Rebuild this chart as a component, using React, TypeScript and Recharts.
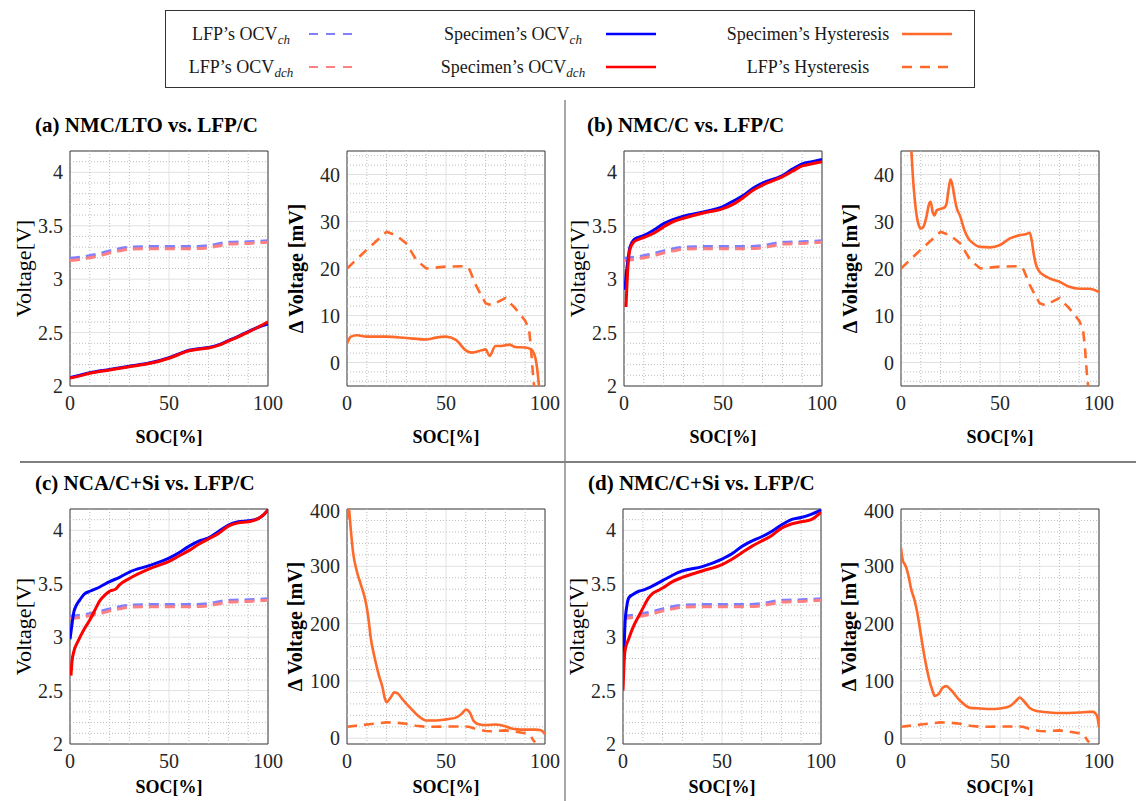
import React from "react";
import {
  LineChart, Line, XAxis, YAxis, CartesianGrid, ReferenceLine, ReferenceArea,
} from "recharts";

// ---- shared LFP reference curves ----
const lfpSoc = [0, 5, 10, 15, 20, 25, 30, 40, 50, 60, 68, 72, 76, 80, 90, 100];
const lfpOcvCh = [3.195, 3.205, 3.22, 3.24, 3.265, 3.285, 3.3, 3.305, 3.305, 3.305, 3.31, 3.32, 3.335, 3.345, 3.35, 3.36];
const lfpOcvDch = [3.175, 3.185, 3.2, 3.22, 3.245, 3.265, 3.28, 3.285, 3.285, 3.285, 3.29, 3.3, 3.315, 3.33, 3.335, 3.345];
const lfpHystSoc = [0, 10, 20, 25, 30, 35, 40, 50, 60, 62, 65, 70, 73, 80, 85, 90, 92, 93, 94, 95];
const lfpHyst = [20, 24, 27.8, 27, 25.3, 21.8, 20, 20.4, 20.5, 19.7, 16.5, 12.6, 12.2, 13.7, 11.5, 8.9, 6.9, 2.6, -3, -7];

// ---- (a) NMC/LTO ----
const aSoc = [0, 5, 10, 20, 30, 40, 50, 55, 60, 65, 70, 75, 80, 85, 90, 95, 100];
const aOcvCh = [2.08, 2.1, 2.125, 2.155, 2.185, 2.215, 2.265, 2.3, 2.335, 2.35, 2.36, 2.385, 2.425, 2.465, 2.51, 2.55, 2.58];
const aOcvDch = [2.075, 2.095, 2.12, 2.15, 2.18, 2.21, 2.26, 2.295, 2.33, 2.345, 2.355, 2.38, 2.42, 2.46, 2.505, 2.55, 2.6];
const aHystSoc = [0, 2, 5, 10, 20, 30, 40, 45, 50, 55, 60, 63, 68, 70, 72, 75, 78, 82, 85, 90, 93, 95, 96.5, 97.5];
const aHyst = [4, 5.5, 5.8, 5.5, 5.5, 5.2, 4.9, 5.3, 5.5, 4.8, 2.6, 2.1, 2.6, 2.8, 1.4, 3.5, 3.5, 3.8, 3.3, 3.2, 2.8, 1.2, -3, -8];

// ---- (b) NMC/C ----
const bChSoc = [0.5, 1, 2, 3, 5, 7, 10, 15, 20, 25, 30, 40, 50, 55, 60, 65, 70, 80, 85, 90, 95, 100];
const bOcvCh = [2.9, 3.02, 3.18, 3.3, 3.37, 3.39, 3.41, 3.46, 3.52, 3.56, 3.59, 3.63, 3.68, 3.73, 3.78, 3.85, 3.9, 3.97, 4.03, 4.08, 4.1, 4.12];
const bDchSoc = [1, 2, 3, 5, 7, 10, 15, 20, 25, 30, 40, 50, 55, 60, 65, 70, 80, 85, 90, 95, 100];
const bOcvDch = [2.74, 3.12, 3.28, 3.35, 3.37, 3.39, 3.43, 3.49, 3.54, 3.57, 3.62, 3.66, 3.7, 3.76, 3.83, 3.88, 3.96, 4.01, 4.06, 4.08, 4.1];
const bHystSoc = [4, 5, 6, 7, 8, 9, 10, 11, 12, 13, 14, 15, 16, 17, 18, 20, 22, 23, 24, 25, 26, 27, 28, 30, 32, 34, 36, 40, 45, 50, 55, 60, 63, 65, 66, 67, 68, 70, 72, 75, 80, 85, 90, 95, 100];
const bHyst = [55, 47, 39.5, 34.5, 31, 29.2, 28.5, 28.7, 29.6, 31.3, 33.5, 34.2, 32, 31.3, 32.4, 32.7, 33, 33.8, 36.7, 39, 37.7, 35.2, 33.1, 31, 28.2, 26.4, 25.5, 24.6, 24.5, 25, 26.4, 27.1, 27.3, 27.6, 26, 23.2, 21.1, 19.3, 18.6, 17.9, 17.2, 16.1, 15.7, 15.7, 15];

// ---- (c) NCA/C+Si ----
const cChSoc = [0, 1, 2, 3, 5, 7, 10, 15, 20, 25, 30, 40, 50, 55, 60, 65, 70, 75, 80, 85, 90, 95, 98, 100];
const cOcvCh = [2.98, 3.12, 3.24, 3.29, 3.35, 3.4, 3.43, 3.47, 3.52, 3.56, 3.61, 3.67, 3.74, 3.79, 3.85, 3.9, 3.93, 3.99, 4.05, 4.08, 4.09, 4.11, 4.15, 4.19];
const cDchSoc = [0.5, 1, 2, 4, 7, 10, 13, 15, 18, 20, 23, 25, 30, 40, 50, 55, 60, 65, 70, 75, 80, 85, 90, 95, 98, 100];
const cOcvDch = [2.64, 2.77, 2.87, 2.96, 3.07, 3.16, 3.27, 3.34, 3.4, 3.43, 3.45, 3.49, 3.55, 3.64, 3.71, 3.76, 3.81, 3.87, 3.92, 3.97, 4.04, 4.07, 4.08, 4.11, 4.15, 4.19];
const cHystSoc = [0, 0.5, 1, 2, 3, 5, 7, 9, 10, 11, 12, 14, 16, 18, 19, 20, 22, 24, 26, 28, 32, 36, 40, 45, 50, 55, 58, 60, 62, 64, 67, 70, 75, 80, 83, 85, 90, 95, 98, 100];
const cHyst = [381, 405, 399, 361, 326, 291, 268, 245, 228, 204, 175, 140, 111, 88, 71, 63, 71, 80, 77, 68, 53, 39, 31, 31, 33, 36, 43, 50, 45, 30, 24, 23, 24, 21, 17, 16, 15, 15, 14, 7];

// ---- (d) NMC/C+Si ----
const dChSoc = [0, 0.5, 1, 2, 3, 5, 8, 10, 15, 20, 25, 30, 40, 50, 55, 60, 65, 70, 75, 80, 85, 90, 95, 100];
const dOcvCh = [2.7, 2.87, 3.12, 3.3, 3.37, 3.4, 3.43, 3.44, 3.48, 3.53, 3.58, 3.62, 3.66, 3.73, 3.78, 3.85, 3.9, 3.94, 3.99, 4.05, 4.1, 4.12, 4.15, 4.19];
const dDchSoc = [0, 0.5, 1, 3, 5, 8, 10, 13, 15, 18, 20, 25, 30, 40, 50, 55, 60, 65, 70, 75, 80, 85, 90, 95, 100];
const dOcvDch = [2.5, 2.74, 2.87, 2.99, 3.09, 3.2, 3.27, 3.37, 3.41, 3.44, 3.46, 3.52, 3.56, 3.62, 3.68, 3.73, 3.79, 3.85, 3.9, 3.95, 4.02, 4.06, 4.08, 4.1, 4.17];
const dHystSoc = [0, 1, 2, 3, 4, 5, 7, 9, 10, 12, 14, 16, 17, 19, 21, 23, 25, 30, 35, 40, 45, 50, 55, 58, 60, 62, 65, 68, 75, 80, 90, 95, 97, 99, 100];
const dHyst = [332, 309, 303, 294, 280, 262, 239, 204, 181, 140, 106, 82, 74, 77, 88, 91, 85, 65, 53, 52, 51, 52, 56, 65, 71, 65, 53, 48, 45, 44, 45, 46, 46, 39, 19];

// ---- ticks ----
const socTicks = [0, 50, 100];
const socMinor = [10, 20, 30, 40, 60, 70, 80, 90];
const voltTicks = [2, 2.5, 3, 3.5, 4];
const voltMinor = [2.1, 2.2, 2.3, 2.4, 2.6, 2.7, 2.8, 2.9, 3.1, 3.2, 3.3, 3.4, 3.6, 3.7, 3.8, 3.9, 4.1];
const smallTicks = [0, 10, 20, 30, 40];
const smallMinor = [-4, -2, 2, 4, 6, 8, 12, 14, 16, 18, 22, 24, 26, 28, 32, 34, 36, 38, 42, 44];
const bigTicks = [0, 100, 200, 300, 400];
const bigMinor = [20, 40, 60, 80, 120, 140, 160, 180, 220, 240, 260, 280, 320, 340, 360, 380];

const BLUE = "#0000ff";
const RED = "#ff0000";
const LBLUE = "#7f7fff";
const LRED = "#ff8080";
const ORANGE = "#ff6a2b";
const FONT = "Liberation Serif";

const rows = (soc: number[], v: number[]) => soc.map((s, i) => ({ soc: s, v: v[i] }));

type Series = { data: { soc: number; v: number }[]; color: string; dash?: string; width: number; curve?: "monotone" | "linear" };

const lfpOcvSeries: Series[] = [
  { data: rows(lfpSoc, lfpOcvCh), color: LBLUE, dash: "10 6", width: 3 },
  { data: rows(lfpSoc, lfpOcvDch), color: LRED, dash: "10 6", width: 3 },
];
const lfpHystSeries: Series = { data: rows(lfpHystSoc, lfpHyst), color: ORANGE, dash: "10 7", width: 2.6, curve: "linear" };

const YAXIS_W = 70;
const RIGHT_PAD = 26;

function YTitle(props: any) {
  const { viewBox, text, off, bold } = props;
  const cx = viewBox.x + off;
  const cy = viewBox.y + viewBox.height / 2;
  return (
    <text x={cx} y={cy} transform={`rotate(-90 ${cx} ${cy})`} textAnchor="middle" dominantBaseline="central"
      style={{ fontFamily: FONT }} fontSize={bold ? 20 : 22} fontWeight={bold ? "bold" : "normal"} fill="#000">
      {text}
    </text>
  );
}

type PanelProps = {
  px: number; py: number; pw: number; ph: number;
  domain: [number, number]; ticks: number[]; minor: number[];
  yTitle: string; bold: boolean; off: number; xOff: number; series: Series[];
};

function Panel({ px, py, pw, ph, domain, ticks, minor, yTitle, bold, off, xOff, series }: PanelProps) {
  const tickStyle = { fontFamily: FONT, fontSize: 20, fill: "#262626", style: { fontFamily: FONT } };
  return (
    <div style={{ position: "absolute", left: px - YAXIS_W, top: py - 10, fontFamily: FONT }}>
      <LineChart width={YAXIS_W + pw + RIGHT_PAD} height={10 + ph + 64} margin={{ top: 10, right: RIGHT_PAD, bottom: 0, left: 0 }}
        style={{ fontFamily: FONT }}>
        <CartesianGrid stroke="#e2e2e2" />
        {socMinor.map((v) => (
          <ReferenceLine key={"mx" + v} x={v} stroke="#bdbdbd" strokeDasharray="1 2" />
        ))}
        {minor.map((v) => (
          <ReferenceLine key={"my" + v} y={v} stroke="#bdbdbd" strokeDasharray="1 2" />
        ))}
        <XAxis dataKey="soc" type="number" domain={[0, 100]} ticks={socTicks} allowDataOverflow
          height={64} tickLine={false} axisLine={false} tickMargin={4} tick={tickStyle}
          label={{ value: "SOC[%]", position: "insideTop", offset: xOff, fontFamily: FONT, fontSize: 18, fontWeight: "bold", fill: "#000", style: { fontFamily: FONT } }} />
        <YAxis dataKey="v" type="number" domain={domain} ticks={ticks} allowDataOverflow width={YAXIS_W}
          tickLine={false} axisLine={false} tickMargin={1} tick={tickStyle}
          label={<YTitle text={yTitle} off={off} bold={bold} />} />
        {series.map((s, i) => (
          <Line key={i} data={s.data} dataKey="v" type={s.curve ?? "monotone"} stroke={s.color}
            strokeWidth={s.width} strokeDasharray={s.dash} dot={false} isAnimationActive={false} />
        ))}
        <ReferenceArea x1={0} x2={100} y1={domain[0]} y2={domain[1]} fill="none" fillOpacity={0} stroke="#3f3f3f" strokeOpacity={1} />
      </LineChart>
    </div>
  );
}

function LegendLine({ color, dash, width }: { color: string; dash?: string; width: number }) {
  return (
    <svg width={50} height={8} style={{ display: "block" }}>
      <line x1={0} y1={4} x2={50} y2={4} stroke={color} strokeWidth={width} strokeDasharray={dash} />
    </svg>
  );
}

const sub = (t: string) => (
  <span style={{ fontStyle: "italic", fontSize: 13, position: "relative", top: 4 }}>{t}</span>
);

function LegendItem({ cx, lx, y, label, color, dash, width }: any) {
  return (
    <>
      <div style={{ position: "absolute", left: cx - 110, width: 220, top: y - 11, lineHeight: "22px", textAlign: "center",
        fontFamily: FONT, fontSize: 18, color: "#1a1a1a", whiteSpace: "nowrap" }}>{label}</div>
      <div style={{ position: "absolute", left: lx, top: y - 4 }}>
        <LegendLine color={color} dash={dash} width={width} />
      </div>
    </>
  );
}

function Title({ x, y, text }: { x: number; y: number; text: string }) {
  return (
    <div style={{ position: "absolute", left: x, top: y - 12, lineHeight: "24px", fontFamily: FONT, fontWeight: "bold",
      fontSize: 21, color: "#000", whiteSpace: "nowrap" }}>{text}</div>
  );
}

export default function App() {
  const vPanel = { pw: 198, ph: 235, domain: [2, 4.2] as [number, number], ticks: voltTicks, minor: voltMinor, yTitle: "Voltage[V]", bold: false, off: 23 };
  const smallPanel = { pw: 198, ph: 235, domain: [-5, 45] as [number, number], ticks: smallTicks, minor: smallMinor, yTitle: "Δ Voltage [mV]", bold: true, off: 19 };
  const bigPanel = { pw: 198, ph: 235, domain: [-10, 400] as [number, number], ticks: bigTicks, minor: bigMinor, yTitle: "Δ Voltage [mV]", bold: true, off: 18 };

  const spec = (ch: Series["data"], dch: Series["data"]): Series[] => [
    ...lfpOcvSeries,
    { data: ch, color: BLUE, width: 3 },
    { data: dch, color: RED, width: 3 },
  ];
  const hyst = (h: Series["data"]): Series[] => [lfpHystSeries, { data: h, color: ORANGE, width: 2.6 }];

  return (
    <div style={{ position: "absolute", left: 0, top: 0, width: 1136, height: 801, background: "#fff", overflow: "hidden", fontFamily: FONT }}>
      {/* legend */}
      <div style={{ position: "absolute", left: 165, top: 10, width: 808, height: 76, border: "1px solid #333", background: "#fff" }} />
      <LegendItem cx={241} lx={309} y={34} label={<>LFP’s OCV{sub("ch")}</>} color={LBLUE} dash="9 8" width={2} />
      <LegendItem cx={241} lx={309} y={67} label={<>LFP’s OCV{sub("dch")}</>} color={LRED} dash="9 8" width={2} />
      <LegendItem cx={513} lx={606} y={34} label={<>Specimen’s OCV{sub("ch")}</>} color={BLUE} width={2.5} />
      <LegendItem cx={513} lx={606} y={67} label={<>Specimen’s OCV{sub("dch")}</>} color={RED} width={2.5} />
      <LegendItem cx={808} lx={902} y={34} label={<>Specimen’s Hysteresis</>} color={ORANGE} width={2.5} />
      <LegendItem cx={808} lx={902} y={67} label={<>LFP’s Hysteresis</>} color={ORANGE} dash="10 8" width={2.5} />

      {/* separators */}
      <div style={{ position: "absolute", left: 564, top: 100, width: 2, height: 701, background: "#a8a8a8" }} />
      <div style={{ position: "absolute", left: 20, top: 461, width: 1116, height: 1.5, background: "#808080" }} />

      <Title x={35} y={125} text="(a) NMC/LTO vs. LFP/C" />
      <Title x={587} y={125} text="(b) NMC/C vs. LFP/C" />
      <Title x={35} y={483} text="(c) NCA/C+Si vs. LFP/C" />
      <Title x={588} y={483} text="(d) NMC/C+Si vs. LFP/C" />

      <Panel px={70} py={151} xOff={44} {...vPanel} series={spec(rows(aSoc, aOcvCh), rows(aSoc, aOcvDch))} />
      <Panel px={347} py={151} xOff={44} {...smallPanel} series={hyst(rows(aHystSoc, aHyst))} />
      <Panel px={624} py={151} xOff={44} {...vPanel} series={spec(rows(bChSoc, bOcvCh), rows(bDchSoc, bOcvDch))} />
      <Panel px={901} py={151} xOff={44} {...smallPanel} series={hyst(rows(bHystSoc, bHyst))} />
      <Panel px={70} py={509} xOff={36} {...vPanel} series={spec(rows(cChSoc, cOcvCh), rows(cDchSoc, cOcvDch))} />
      <Panel px={347} py={509} xOff={36} {...bigPanel} series={hyst(rows(cHystSoc, cHyst))} />
      <Panel px={623} py={509} xOff={36} {...vPanel} series={spec(rows(dChSoc, dOcvCh), rows(dDchSoc, dOcvDch))} />
      <Panel px={901} py={509} xOff={36} {...bigPanel} series={hyst(rows(dHystSoc, dHyst))} />
    </div>
  );
}
